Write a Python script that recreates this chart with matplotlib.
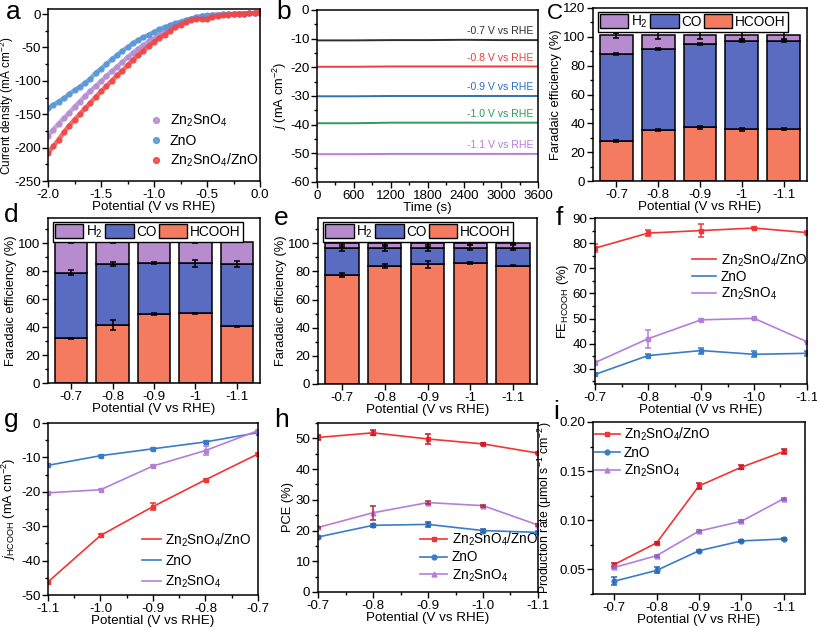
import numpy as np
import matplotlib
matplotlib.use("Agg")
import matplotlib.pyplot as plt
from matplotlib.ticker import MultipleLocator, FormatStrFormatter
from matplotlib.patches import Patch

plt.rcParams['font.family'] = ['Liberation Sans', 'DejaVu Sans']
plt.rcParams['mathtext.fontset'] = 'custom'
plt.rcParams['mathtext.rm'] = 'Liberation Sans'
plt.rcParams['mathtext.it'] = 'Liberation Sans:italic'
plt.rcParams['axes.linewidth'] = 1.1
plt.rcParams['axes.unicode_minus'] = False

# ---------------- data ----------------
# (a) LSV curves
lsv_potential = [-2.00, -1.95, -1.90, -1.85, -1.80, -1.75, -1.70, -1.65, -1.60, -1.55,
                 -1.50, -1.45, -1.40, -1.35, -1.30, -1.25, -1.20, -1.15, -1.10, -1.05,
                 -1.00, -0.95, -0.90, -0.85, -0.80, -0.75, -0.70, -0.65, -0.60, -0.55,
                 -0.50, -0.45, -0.40, -0.35, -0.30, -0.25, -0.20, -0.15, -0.10, -0.05, 0.00]
lsv_zn2sno4 = [-182, -173, -164, -156, -148, -139, -131, -123, -115, -108,
               -101, -93, -86, -79, -72, -65, -58, -52, -47, -41,
               -37, -31, -26, -21, -17, -13, -10, -7, -5, -3,
               -2, -1.5, -1, -0.5, 0, 0, 0.5, 0.5, 1, 1.5, 2]
lsv_zno = [-141, -136, -131, -126, -120, -114, -109, -103, -97, -88,
           -82, -75, -68, -62, -55, -50, -44, -39, -35, -31,
           -27, -23, -20, -17, -14, -11.5, -9, -7, -5, -3.5,
           -2.5, -1.5, -1, -0.5, 0, 0, 0.5, 0.5, 1, 1.5, 2]
lsv_composite = [-208, -198, -188, -177, -167, -158, -150, -141, -133, -124,
                 -116, -108, -100, -92, -85, -77, -69, -62, -55, -48,
                 -42, -36, -31, -25, -20, -16, -12, -9, -7, -8,
                 -8, -4, -3, -2, -1, -0.5, 0, 0.5, 1, 1.5, 3]

# (b) chronoamperometry
time_s = [0, 600, 1200, 1800, 2400, 3000, 3600]
ca_labels = ['-0.7 V vs RHE', '-0.8 V vs RHE', '-0.9 V vs RHE', '-1.0 V vs RHE', '-1.1 V vs RHE']
ca_current = [
    [-10.6, -10.6, -10.5, -10.5, -10.4, -10.5, -10.5],
    [-19.8, -19.8, -19.7, -19.7, -19.7, -19.7, -19.7],
    [-30.1, -30.1, -30.0, -30.0, -30.0, -30.0, -30.0],
    [-39.5, -39.5, -39.3, -39.3, -39.3, -39.3, -39.3],
    [-50.3, -50.3, -50.2, -50.2, -50.2, -50.2, -50.2],
]
ca_colors = ['#303030', '#f23c3c', '#2f6fbd', '#2e9a5c', '#b67ed8']

# (c, d, e) faradaic efficiency bars
fe_labels = ['-0.7', '-0.8', '-0.9', '-1', '-1.1']
fe_c_hcooh = [27.5, 35.2, 37.2, 35.8, 36.0]
fe_c_co = [60.5, 56.3, 57.8, 61.2, 61.0]
fe_c_h2 = [13.0, 9.5, 6.0, 4.0, 4.0]
fe_c_err = [[0.6, 0.6, 1.2, 1.2, 0.9], [0.5, 0.5, 0.5, 0.5, 0.5], [2.0, 2.5, 2.5, 2.5, 2.5]]

fe_d_hcooh = [32.0, 41.5, 49.3, 50.0, 40.5]
fe_d_co = [47.0, 43.5, 36.7, 35.5, 44.5]
fe_d_h2 = [22.0, 16.0, 15.0, 15.5, 16.0]
fe_d_err = [[0.5, 3.5, 0.5, 0.3, 0.5], [1.8, 1.2, 0.8, 2.2, 2.0], [0.7, 0.7, 0.3, 0.7, 0.3]]

fe_e_hcooh = [77.5, 84.0, 85.0, 86.0, 84.2]
fe_e_co = [19.0, 12.5, 11.5, 11.0, 12.8]
fe_e_h2 = [3.5, 3.5, 3.5, 3.0, 3.0]
fe_e_err = [[1.5, 1.5, 2.5, 0.5, 0.5], [2.0, 2.0, 2.0, 1.5, 1.5], [2.5, 2.0, 2.5, 1.5, 0.5]]

# (f, g, h, i) comparisons
potential = [-0.7, -0.8, -0.9, -1.0, -1.1]
fe_hcooh_comp = [78.0, 84.0, 85.0, 86.0, 84.2]
fe_hcooh_comp_err = [1.5, 1.2, 2.5, 0.5, 0.5]
fe_hcooh_zno = [27.8, 35.3, 37.3, 35.8, 36.2]
fe_hcooh_zno_err = [0.5, 0.7, 1.2, 1.2, 1.0]
fe_hcooh_zso = [32.5, 42.0, 49.5, 50.1, 40.8]
fe_hcooh_zso_err = [0.5, 3.5, 0.3, 0.2, 0.2]

potential_g = [-1.1, -1.0, -0.9, -0.8, -0.7]
j_comp = [-46.2, -32.7, -24.3, -16.5, -9.0]
j_comp_err = [0.4, 0.3, 1.0, 0.3, 0.2]
j_zno = [-12.3, -9.5, -7.5, -5.5, -2.8]
j_zno_err = [0.2, 0.3, 0.3, 0.3, 0.2]
j_zso = [-20.3, -19.4, -12.5, -8.0, -2.2]
j_zso_err = [0.2, 0.2, 0.2, 1.2, 0.3]

pce_comp = [50.3, 51.8, 49.8, 48.2, 45.2]
pce_comp_err = [0.8, 0.8, 1.5, 0.4, 0.3]
pce_zno = [17.9, 21.7, 22.0, 20.0, 19.4]
pce_zno_err = [0.3, 0.5, 0.8, 0.6, 0.5]
pce_zso = [21.0, 25.8, 29.1, 28.1, 21.8]
pce_zso_err = [0.3, 2.3, 0.5, 0.3, 0.3]

rate_comp = [0.055, 0.077, 0.135, 0.154, 0.170]
rate_comp_err = [0.002, 0.001, 0.003, 0.002, 0.003]
rate_zno = [0.038, 0.049, 0.069, 0.079, 0.081]
rate_zno_err = [0.004, 0.003, 0.001, 0.001, 0.001]
rate_zso = [0.052, 0.064, 0.089, 0.099, 0.122]
rate_zso_err = [0.001, 0.001, 0.001, 0.001, 0.001]

ZSO = 'Zn$_2$SnO$_4$'
COMP = 'Zn$_2$SnO$_4$/ZnO'
RED = '#f23434'
BLUE = '#3a7cc8'
PURPLE = '#b57fd9'
C_H2 = '#b78ccf'
C_CO = '#5a6cc2'
C_HCOOH = '#f47b60'
TICK_FS = 9.6
LABEL_FS = 9.6
YLABEL_FS = 9.3
LEG_FS = 9.8
XLABEL = 'Potential (V vs RHE)'


def style_axes(ax, xminor=None, yminor=None):
    ax.tick_params(which='both', direction='out', top=False, right=False,
                   labelsize=TICK_FS, width=1.0, pad=1.5)
    ax.tick_params(which='major', length=4)
    ax.tick_params(which='minor', length=2.5)
    if xminor:
        ax.xaxis.set_minor_locator(MultipleLocator(xminor))
    if yminor:
        ax.yaxis.set_minor_locator(MultipleLocator(yminor))


def set_labels(ax, xlabel, ylabel, ylab_xy=None, ysize=YLABEL_FS):
    ax.set_xlabel(xlabel, fontsize=LABEL_FS, labelpad=0)
    ax.set_ylabel(ylabel, fontsize=ysize, labelpad=1)
    if ylab_xy is not None:
        ax.yaxis.set_label_coords(*ylab_xy)


def panel_letter(fig, x, y, s, size=19):
    fig.text(x / 817, 1 - y / 630, s, fontsize=size, va='top', ha='left')


def plot_fe_bars(ax, hcooh, co, h2, err):
    x = np.arange(len(fe_labels))
    w = 0.78
    ax.bar(x, hcooh, w, color=C_HCOOH, edgecolor='black', lw=1.1)
    ax.bar(x, co, w, bottom=hcooh, color=C_CO, edgecolor='black', lw=1.1)
    bottom2 = np.array(hcooh) + np.array(co)
    ax.bar(x, h2, w, bottom=bottom2, color=C_H2, edgecolor='black', lw=1.1)
    tops = [np.array(hcooh), bottom2, bottom2 + np.array(h2)]
    for t, e in zip(tops, err):
        ax.errorbar(x, t, yerr=e, fmt='none', ecolor='black', elinewidth=1.1,
                    capsize=2, capthick=1.1)
    ax.set_xticks(x)
    ax.set_xticklabels(fe_labels)
    ax.set_xlim(-0.56, 4.56)
    set_labels(ax, XLABEL, 'Faradaic efficiency (%)')
    style_axes(ax, yminor=10)
    ax.tick_params(axis='x', which='minor', bottom=False)
    handles = [Patch(facecolor=C_H2, edgecolor='black', label='H$_2$'),
               Patch(facecolor=C_CO, edgecolor='black', label='CO'),
               Patch(facecolor=C_HCOOH, edgecolor='black', label='HCOOH')]
    leg = ax.legend(handles=handles, ncol=3, loc='upper left', bbox_to_anchor=(0.01, 0.995),
                    fontsize=LEG_FS, handlelength=2.1, handleheight=1.2,
                    handletextpad=0.2, columnspacing=0.15, borderpad=0.15,
                    borderaxespad=0.2, fancybox=False, edgecolor='black', framealpha=1)
    leg.get_frame().set_linewidth(1.0)


fig = plt.figure(figsize=(8.17, 6.30), dpi=100)

def add_ax(x0, y0, x1, y1):
    return fig.add_axes([x0 / 817, 1 - y1 / 630, (x1 - x0) / 817, (y1 - y0) / 630])

# ---- a ----
ax = add_ax(48, 9, 260, 181)
for y, c, lab in [(lsv_zn2sno4, '#b58fd3', ZSO), (lsv_zno, '#5a98d8', 'ZnO'),
                  (lsv_composite, '#f04848', COMP)]:
    ax.plot(lsv_potential, y, color=c, lw=3.2, alpha=0.8, solid_capstyle='round')
    ax.plot(lsv_potential, y, 'o', color=c, ms=3.5, alpha=0.9, label=lab)
ax.set_xlim(-2.0, 0.0)
ax.set_ylim(-250, 7.5)
ax.xaxis.set_major_locator(MultipleLocator(0.5))
ax.xaxis.set_major_formatter(FormatStrFormatter('%.1f'))
ax.yaxis.set_major_locator(MultipleLocator(50))
style_axes(ax, xminor=0.25, yminor=25)
ax.tick_params(axis='y', which='both', pad=1)
set_labels(ax, XLABEL, 'Current density (mA cm$^{-2}$)', ylab_xy=(-0.15, 0.44), ysize=8.5)
ax.legend(loc='lower right', bbox_to_anchor=(1.0, 0.06), frameon=False, fontsize=LEG_FS + 0.3,
          handletextpad=0.4, markerscale=1.2, borderaxespad=0.0, borderpad=0.1,
          labelspacing=0.3, handlelength=1.2)
panel_letter(fig, 6, 0, 'a')

# ---- b ----
ax = add_ax(317, 10, 538, 182)
for cur, c, lab in zip(ca_current, ca_colors, ca_labels):
    ax.plot(time_s, cur, color=c, lw=1.4)
    ax.text(3520, cur[-1] + 1.3, lab, color=c, fontsize=7.6, ha='right', va='bottom')
ax.set_xlim(0, 3600)
ax.set_ylim(-60, 0)
ax.set_xticks(range(0, 3601, 600))
ax.yaxis.set_major_locator(MultipleLocator(10))
style_axes(ax, xminor=300, yminor=5)
set_labels(ax, 'Time (s)', '$j$ (mA cm$^{-2}$)')
panel_letter(fig, 276, 0, 'b')

# ---- c ----
ax = add_ax(593, 8, 807, 181)
plot_fe_bars(ax, fe_c_hcooh, fe_c_co, fe_c_h2, fe_c_err)
ax.set_ylim(0, 120)
ax.yaxis.set_major_locator(MultipleLocator(20))
panel_letter(fig, 547, 3, 'C', size=16)

# ---- d ----
ax = add_ax(48, 218, 260, 383)
plot_fe_bars(ax, fe_d_hcooh, fe_d_co, fe_d_h2, fe_d_err)
ax.set_ylim(0, 118)
ax.set_yticks(range(0, 101, 20))
panel_letter(fig, 4, 203, 'd')

# ---- e ----
ax = add_ax(318, 218, 537, 384)
plot_fe_bars(ax, fe_e_hcooh, fe_e_co, fe_e_h2, fe_e_err)
ax.set_ylim(0, 118)
ax.set_yticks(range(0, 101, 20))
panel_letter(fig, 274, 206, 'e')

# ---- f ----
ax = add_ax(595, 218, 807, 384)
for y, e, c, lab in [(fe_hcooh_comp, fe_hcooh_comp_err, RED, COMP),
                     (fe_hcooh_zno, fe_hcooh_zno_err, BLUE, 'ZnO'),
                     (fe_hcooh_zso, fe_hcooh_zso_err, PURPLE, ZSO)]:
    ax.plot(potential, y, color=c, lw=1.2, label=lab)
    ax.errorbar(potential, y, yerr=e, fmt='s', ms=2.5, color=c, elinewidth=1.1,
                capsize=2, capthick=1.1)
ax.set_xlim(-0.7, -1.1)
ax.set_ylim(24, 90)
ax.xaxis.set_major_locator(MultipleLocator(0.1))
ax.xaxis.set_major_formatter(FormatStrFormatter('%.1f'))
ax.yaxis.set_major_locator(MultipleLocator(10))
style_axes(ax, xminor=0.05, yminor=5)
set_labels(ax, XLABEL, 'FE$_{\\mathrm{HCOOH}}$ (%)')
ax.legend(loc='upper right', bbox_to_anchor=(1.0, 0.8), frameon=False, fontsize=LEG_FS,
          handlelength=1.8, handletextpad=0.3, labelspacing=0.12, borderpad=0,
          borderaxespad=0)
panel_letter(fig, 556, 206, 'f')

# ---- g ----
ax = add_ax(48, 423, 258, 595)
for y, e, c, lab in [(j_comp, j_comp_err, RED, COMP),
                     (j_zno, j_zno_err, BLUE, 'ZnO'),
                     (j_zso, j_zso_err, PURPLE, ZSO)]:
    ax.plot(potential_g, y, color=c, lw=1.2, label=lab)
    ax.errorbar(potential_g, y, yerr=e, fmt='s', ms=2.5, color=c, elinewidth=1.1,
                capsize=2, capthick=1.1)
ax.set_xlim(-1.1, -0.7)
ax.set_ylim(-50, 0)
ax.xaxis.set_major_locator(MultipleLocator(0.1))
ax.xaxis.set_major_formatter(FormatStrFormatter('%.1f'))
ax.yaxis.set_major_locator(MultipleLocator(10))
style_axes(ax, xminor=0.05, yminor=5)
set_labels(ax, XLABEL, '$j_{\\mathrm{HCOOH}}$ (mA cm$^{-2}$)', ylab_xy=(-0.145, 0.5))
ax.legend(loc='lower right', bbox_to_anchor=(0.97, 0.03), frameon=False, fontsize=LEG_FS,
          handlelength=1.4, handletextpad=0.3, labelspacing=0.4, borderpad=0,
          borderaxespad=0)
panel_letter(fig, 4, 408, 'g')

# ---- h ----
ax = add_ax(318, 423, 538, 592)
for y, e, c, m, ec, lab in [(pce_comp, pce_comp_err, RED, 's', '#c8182a', COMP),
                            (pce_zno, pce_zno_err, BLUE, 'o', '#2a66b0', 'ZnO'),
                            (pce_zso, pce_zso_err, PURPLE, '^', '#a82a3a', ZSO)]:
    ax.plot(potential, y, '-', marker=m, color=c, lw=1.2, ms=3.5, label=lab)
    ax.errorbar(potential, y, yerr=e, fmt='none', ecolor=ec, elinewidth=1.1,
                capsize=2, capthick=1.1)
ax.set_xlim(-0.7, -1.1)
ax.set_ylim(0, 55)
ax.xaxis.set_major_locator(MultipleLocator(0.1))
ax.xaxis.set_major_formatter(FormatStrFormatter('%.1f'))
ax.yaxis.set_major_locator(MultipleLocator(10))
style_axes(ax, xminor=0.05, yminor=5)
set_labels(ax, XLABEL, 'PCE (%)')
ax.legend(loc='lower right', bbox_to_anchor=(1.0, 0.05), frameon=False, fontsize=LEG_FS,
          handlelength=2.0, handletextpad=0.3, labelspacing=0.2, borderpad=0,
          borderaxespad=0)
panel_letter(fig, 274, 408, 'h')

# ---- i ----
ax = add_ax(593, 422, 805, 594)
for y, e, c, m, ec, lab in [(rate_comp, rate_comp_err, RED, 's', '#c8182a', COMP),
                            (rate_zno, rate_zno_err, BLUE, 'o', '#2a66b0', 'ZnO'),
                            (rate_zso, rate_zso_err, PURPLE, '^', '#8e5cc0', ZSO)]:
    ax.plot(potential, y, '-', marker=m, color=c, lw=1.2, ms=3.5, label=lab)
    ax.errorbar(potential, y, yerr=e, fmt='none', ecolor=ec, elinewidth=1.1,
                capsize=2, capthick=1.1)
ax.set_xlim(-0.65, -1.15)
ax.set_ylim(0.025, 0.20)
ax.set_xticks(potential)
ax.xaxis.set_major_formatter(FormatStrFormatter('%.1f'))
ax.yaxis.set_major_locator(MultipleLocator(0.05))
ax.yaxis.set_major_formatter(FormatStrFormatter('%.2f'))
style_axes(ax, yminor=0.025)
set_labels(ax, XLABEL, 'Production rate (\u03bcmol s$^{-1}$ cm$^{-2}$)',
           ylab_xy=(-0.185, 0.5), ysize=8.8)
ax.legend(loc='upper left', bbox_to_anchor=(0.01, 0.98), frameon=False, fontsize=LEG_FS,
          handlelength=1.8, handletextpad=0.3, labelspacing=0.2, borderpad=0,
          borderaxespad=0)
panel_letter(fig, 553, 400, 'i')

fig.savefig('out.png', dpi=100)
